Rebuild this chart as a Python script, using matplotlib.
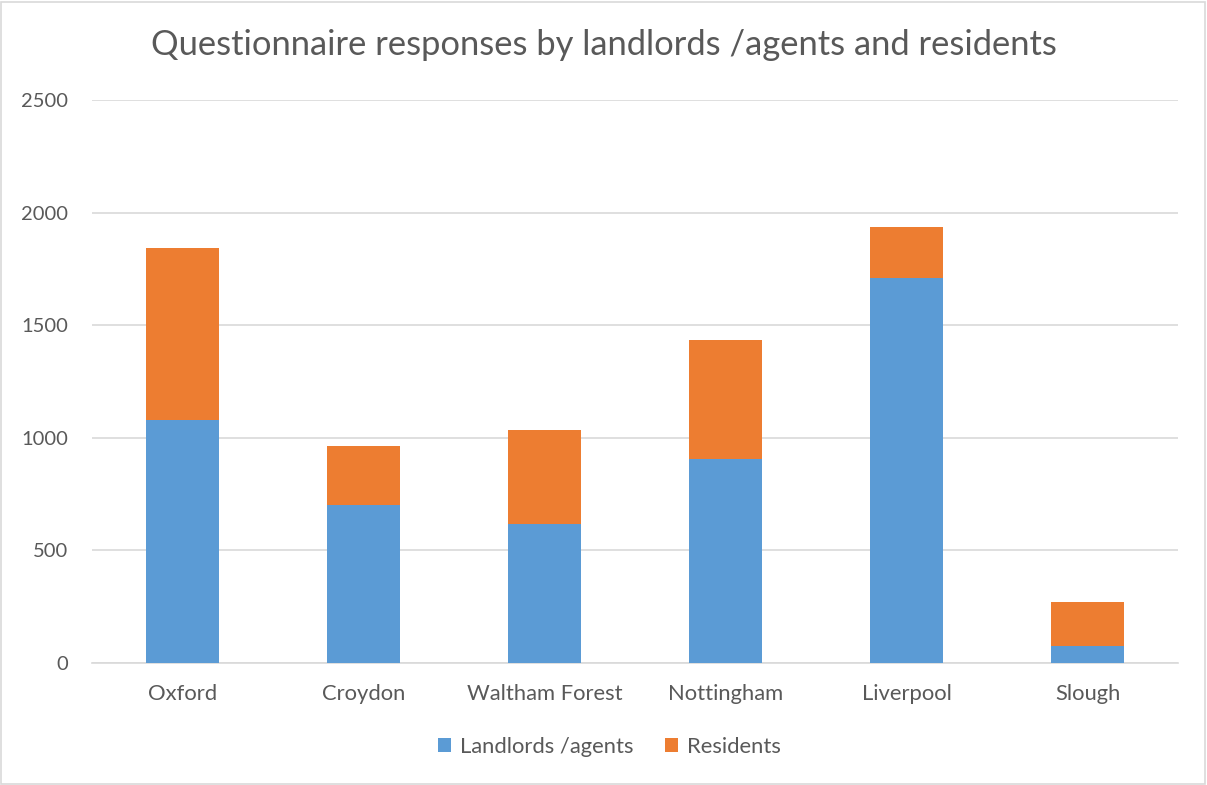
import matplotlib
matplotlib.use("Agg")
import matplotlib.pyplot as plt
from matplotlib.patches import Rectangle

categories = ["Oxford", "Croydon", "Waltham Forest", "Nottingham", "Liverpool", "Slough"]
landlords = [1078, 700, 619, 904, 1708, 74]
residents = [763, 264, 416, 530, 229, 196]
yticks = [0, 500, 1000, 1500, 2000, 2500]

plt.rcParams['font.family'] = ['Lato', 'DejaVu Sans']
txt = '#595959'
blue = '#5B9BD5'
orange = '#ED7D31'

fig = plt.figure(figsize=(12.07, 7.85), dpi=100)
W, H = 1207, 785
ax = fig.add_axes([92 / W, 1 - 663 / H, (1178 - 92) / W, (663 - 100) / H])

x = list(range(len(categories)))
ax.bar(x, landlords, width=0.4, color=blue, label='Landlords /agents', zorder=3)
ax.bar(x, residents, width=0.4, bottom=landlords, color=orange, label='Residents', zorder=3)

ax.set_xlim(-0.5, len(categories) - 0.5)
ax.set_ylim(0, 2500)
ax.set_yticks(yticks)
ax.set_yticklabels([str(v) for v in yticks])
ax.set_xticks(x)
ax.set_xticklabels(categories)
ax.yaxis.grid(True, color='#D9D9D9', linewidth=1.2, zorder=0)
for s in ['top', 'right', 'left']:
    ax.spines[s].set_visible(False)
ax.spines['bottom'].set_color('#D9D9D9')
ax.spines['bottom'].set_linewidth(1.2)
ax.tick_params(axis='both', length=0, colors=txt)
ax.tick_params(axis='y', pad=17, labelsize=14.5)
ax.tick_params(axis='x', pad=15, labelsize=15.8)

fig.text(0.5, 1 - 45 / H, 'Questionnaire responses by landlords /agents and residents',
         ha='center', va='center', fontsize=24.8, color=txt)

leg = fig.legend(loc='center', bbox_to_anchor=(0.5 + 6 / W, 1 - 747 / H), ncol=2, frameon=False,
                 fontsize=15.8, handlelength=0.6, handleheight=0.6, handletextpad=0.4,
                 columnspacing=1.45, labelcolor=txt)

fig.patches.append(Rectangle((1 / W, 1 / H), 1 - 3 / W, 1 - 3 / H, transform=fig.transFigure,
                             fill=False, edgecolor='#D9D9D9', linewidth=1.2))

fig.savefig('out.png', dpi=100)
